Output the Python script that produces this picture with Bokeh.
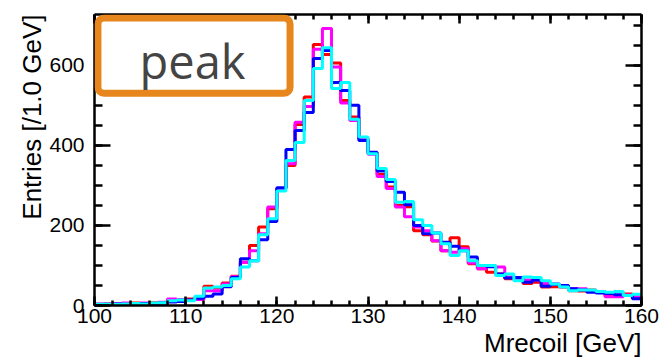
import math
from bokeh.plotting import figure
from bokeh.models import (LinearAxis, Range1d, Label, BoxAnnotation, FixedTicker,
                          CustomJSTickFormatter, Title)
from bokeh.embed import file_html
from bokeh.resources import INLINE

# ---------------- data ----------------
bin_edges = list(range(100, 161))  # 1 GeV bins, 100..160

red = [3, 4, 3, 5, 6, 4, 7, 6, 15, 14,
       16, 20, 48, 44, 56, 73, 108, 150, 196, 242,
       292, 350, 452, 521, 652, 627, 606, 512, 471, 417,
       380, 327, 296, 250, 247, 187, 177, 161, 137, 169,
       147, 104, 92, 83, 79, 67, 64, 55, 58, 46,
       47, 46, 37, 36, 39, 33, 25, 25, 29, 19]

magenta = [4, 3, 5, 6, 5, 6, 5, 8, 16, 15,
           13, 15, 37, 37, 54, 72, 108, 137, 179, 246,
           292, 354, 458, 497, 640, 692, 596, 506, 462, 417,
           378, 322, 292, 246, 222, 196, 187, 162, 137, 133,
           142, 106, 92, 100, 96, 71, 66, 64, 64, 55,
           54, 47, 42, 42, 37, 35, 22, 22, 26, 22]

blue = [2, 3, 4, 3, 4, 5, 4, 6, 9, 10,
        14, 18, 23, 29, 47, 70, 117, 112, 164, 210,
        294, 390, 437, 482, 617, 637, 557, 537, 500, 412,
        383, 336, 310, 283, 252, 200, 179, 181, 158, 148,
        137, 121, 100, 97, 79, 69, 70, 58, 64, 48,
        53, 50, 42, 39, 33, 31, 30, 27, 25, 17]

cyan = [3, 3, 3, 4, 5, 4, 6, 7, 12, 14,
        12, 23, 44, 46, 50, 67, 96, 112, 177, 217,
        286, 362, 407, 512, 592, 644, 542, 557, 465, 421,
        379, 342, 315, 258, 260, 214, 200, 181, 154, 125,
        137, 112, 100, 100, 75, 79, 62, 71, 70, 62,
        54, 46, 37, 39, 39, 35, 33, 35, 25, 28]

series = [("red", red), ("magenta", magenta), ("blue", blue), ("cyan", cyan)]

x_major = [100, 110, 120, 130, 140, 150, 160]
x_minor = list(range(100, 161, 2))
y_major = [0, 200, 400, 600]
y_minor = list(range(0, 701, 50))

x_title = "Mrecoil [GeV]"
y_title = "Entries [/1.0 GeV]"
box_text = "peak"

# ---------------- figure ----------------
p = figure(width=662, height=360, output_backend="svg", toolbar_location=None,
           x_range=Range1d(100, 160), y_range=Range1d(0, 727),
           min_border_left=94, min_border_right=21, min_border_top=14,
           min_border_bottom=55)
p.xgrid.visible = False
p.ygrid.visible = False
p.outline_line_color = None
p.background_fill_color = "white"
p.border_fill_color = "white"

FONT = "Liberation Sans"

def style_axis(ax, major_len, minor_len, labels=True, standoff=6):
    ax.axis_line_color = "black"
    ax.axis_line_width = 2.5
    ax.major_tick_in = major_len
    ax.major_tick_out = 0
    ax.minor_tick_in = minor_len
    ax.minor_tick_out = 0
    ax.major_tick_line_width = 2.5
    ax.minor_tick_line_width = 2.5
    ax.major_tick_line_color = "black"
    ax.minor_tick_line_color = "black"
    if labels:
        ax.major_label_text_font = FONT
        ax.major_label_text_font_size = "21px"
        ax.major_label_text_color = "black"
        ax.major_label_standoff = standoff
    else:
        ax.formatter = CustomJSTickFormatter(code="return ''")
        ax.major_label_standoff = 0

xb = p.xaxis[0]
xb.ticker = FixedTicker(ticks=x_major, minor_ticks=x_minor)
style_axis(xb, 9, 5, True, 3)

yl = p.yaxis[0]
yl.ticker = FixedTicker(ticks=y_major, minor_ticks=y_minor)
style_axis(yl, 16, 8, True, 10)

xt = LinearAxis(ticker=FixedTicker(ticks=x_major, minor_ticks=x_minor))
style_axis(xt, 9, 5, False)
p.add_layout(xt, "above")

yr = LinearAxis(ticker=FixedTicker(ticks=y_major, minor_ticks=y_minor))
style_axis(yr, 16, 8, False)
p.add_layout(yr, "right")

# axis titles, ROOT style (right / top aligned)
p.add_layout(Title(text=x_title, align="right", text_font=FONT,
                   text_font_size="26px", text_font_style="normal",
                   text_color="black", standoff=0, offset=0), "below")
p.add_layout(Title(text=y_title, align="right", text_font=FONT,
                   text_font_size="26px", text_font_style="normal",
                   text_color="black", standoff=0, offset=0), "left")

# histograms drawn as steps
for color, vals in series:
    p.step(x=bin_edges, y=vals + [vals[-1]], mode="after",
           line_color=color, line_width=3)

# "peak" box
p.add_layout(BoxAnnotation(left=100.38, right=121.45, bottom=530, top=718.5,
                           fill_color="white", fill_alpha=1.0,
                           line_color="#E6861C", line_alpha=1.0, line_width=7,
                           border_radius=6, level="annotation"))
p.add_layout(Label(x=110.75, y=611, text=box_text, text_align="center",
                   text_baseline="alphabetic", text_font="Open Sans",
                   text_font_size="47px", text_color="#444444"))

open("out.html", "w").write(file_html(p, INLINE))
